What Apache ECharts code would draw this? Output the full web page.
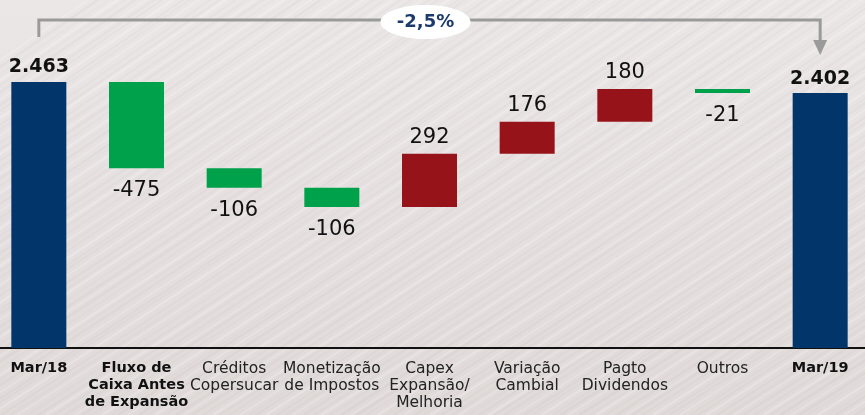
<!DOCTYPE html>
<html>
<head>
    <meta charset='utf-8' />
    <script src="https://cdn.jsdelivr.net/npm/echarts@6/dist/echarts.min.js"></script>
    <style>
        html, body { margin: 0; padding: 0; }
        #chart { width: 865px; height: 415px; }
    </style>
</head>
<body>
    <div id="chart"></div>
    <script type="text/javascript">
        var categories = ['Mar/18', 'Fluxo de\nCaixa Antes\nde Expansão', 'Créditos\nCopersucar', 'Monetização\nde Impostos',
            'Capex\nExpansão/\nMelhoria', 'Variação\nCambial', 'Pagto\nDividendos', 'Outros', 'Mar/19'];
        var boldCats = ['Mar/18', 'Fluxo de\nCaixa Antes\nde Expansão', 'Mar/19'];
        var startValue = 2463;
        var deltas = [-475, -106, -106, 292, 176, 180, -21];
        var endValue = 2402;
        var changeLabel = '-2,5%';

        var BLUE = '#02356a', GREEN = '#00a14b', RED = '#961319';
        var FONT = 'DejaVu Sans';

        // waterfall: invisible base + visible part
        var baseData = [0], barData = [], run = startValue;
        barData.push({ value: startValue, kind: 'total' });
        deltas.forEach(function(d) {
            var next = run + d;
            baseData.push(Math.min(run, next));
            barData.push({ value: Math.abs(d), kind: d < 0 ? 'neg' : 'pos', delta: d });
            run = next;
        });
        baseData.push(0);
        barData.push({ value: endValue, kind: 'total' });

        function fmtThousand(v) {
            return String(v).replace(/\B(?=(\d{3})+(?!\d))/g, '.');
        }

        var visible = barData.map(function(d) {
            var item = { value: d.value, itemStyle: {}, label: {} };
            if (d.kind === 'total') {
                item.itemStyle.color = BLUE;
                item.label = { show: true, position: 'top', distance: 5, formatter: fmtThousand(d.value),
                    fontSize: 19, fontWeight: 'bold', color: '#111', fontFamily: FONT };
            } else if (d.kind === 'neg') {
                item.itemStyle.color = GREEN;
                item.label = { show: true, position: 'bottom', distance: 12, formatter: String(d.delta),
                    fontSize: 21, color: '#111', fontFamily: FONT };
            } else {
                item.itemStyle.color = RED;
                item.label = { show: true, position: 'top', distance: 6, formatter: String(d.delta),
                    fontSize: 21, color: '#111', fontFamily: FONT };
            }
            return item;
        });

        // faint streaked backdrop, like the faded field photo
        var bg = document.createElement('canvas');
        bg.width = 865; bg.height = 415;
        var ctx = bg.getContext('2d');
        var grd = ctx.createLinearGradient(0, 0, 0, 415);
        grd.addColorStop(0, '#ebe7e6');
        grd.addColorStop(1, '#e0dad9');
        ctx.fillStyle = grd;
        ctx.fillRect(0, 0, 865, 415);
        var off = -540;
        for (var i = 0; off < 900; i++) {
            off += 6 + 5 * Math.abs(Math.sin(i * 2.3));
            ctx.strokeStyle = (i % 3 === 0) ? 'rgba(255,255,255,0.22)' : 'rgba(165,155,153,' + (0.03 + 0.05 * Math.abs(Math.sin(i * 1.7))) + ')';
            ctx.lineWidth = 1.5 + (i % 2);
            ctx.beginPath();
            ctx.moveTo(off, 415);
            ctx.quadraticCurveTo(off + 260, 250, off + 680, -40);
            ctx.stroke();
        }

        var chart = echarts.init(document.getElementById('chart'));
        var option = {
            backgroundColor: { image: bg, repeat: 'no-repeat' },
            animation: false,
            grid: { left: -10, right: -4, top: 48, bottom: 67, outerBoundsMode: 'none' },
            xAxis: {
                type: 'category',
                data: categories,
                axisLine: { lineStyle: { color: '#111', width: 2 } },
                axisTick: { show: false },
                axisLabel: {
                    interval: 0,
                    margin: 12,
                    fontSize: 15.5,
                    lineHeight: 17,
                    color: '#222',
                    fontFamily: FONT,
                    formatter: function(v) {
                        if (boldCats.indexOf(v) >= 0) return '{b|' + v.split('\n').join('}\n{b|') + '}';
                        return v;
                    },
                    rich: { b: { fontWeight: 'bold', fontSize: 14.5, lineHeight: 17, color: '#111', fontFamily: FONT } }
                }
            },
            yAxis: {
                type: 'value', min: 1000, max: 2650,
                show: false, splitLine: { show: false }
            },
            series: [{
                type: 'bar', stack: 'wf', data: baseData, barWidth: 55,
                itemStyle: { color: 'transparent' }, silent: true
            }, {
                type: 'bar', stack: 'wf', data: visible, barWidth: 55
            }]
        };
        chart.setOption(option);

        // bracket arrow from first bar to last bar
        var x0 = chart.convertToPixel({ xAxisIndex: 0 }, 0);
        var x1 = chart.convertToPixel({ xAxisIndex: 0 }, categories.length - 1);
        var yTop = 20, gray = '#9a9a9a';
        var xm = (x0 + x1) / 2;
        chart.setOption({
            graphic: [
                { type: 'polyline', shape: { points: [[x0, 37], [x0, yTop], [x1, yTop], [x1, 42]] },
                  style: { stroke: gray, lineWidth: 3, fill: null } },
                { type: 'polygon', shape: { points: [[x1 - 7, 40], [x1 + 7, 40], [x1, 55]] },
                  style: { fill: gray } },
                { type: 'ellipse', shape: { cx: xm - 4, cy: 22, rx: 45, ry: 17 },
                  style: { fill: '#ffffff' } },
                { type: 'text', x: xm - 4, y: 22,
                  style: { text: changeLabel, fill: '#1c3a6b', font: 'bold 18px ' + FONT, align: 'center', verticalAlign: 'middle' } }
            ]
        });
    </script>
</body>
</html>
